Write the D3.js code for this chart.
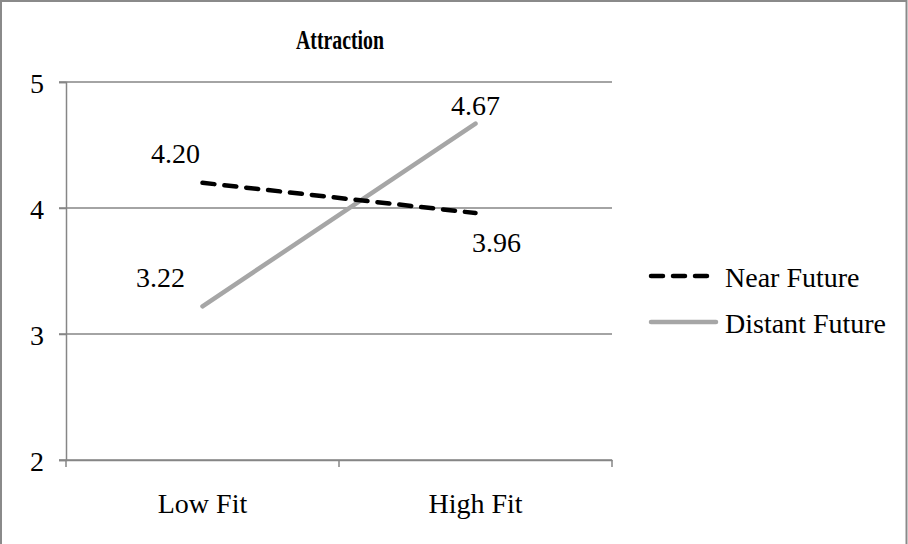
<!DOCTYPE html>
<html><head><meta charset="utf-8">
<script src="https://cdn.jsdelivr.net/npm/d3@7"></script>
<style>
body{margin:0;background:#fff;}
text{font-family:"Liberation Serif","Times New Roman",serif;fill:#000;}
</style></head>
<body><svg id="c" width="908" height="544"></svg>
<script>
const title = "Attraction";
const categories = ["Low Fit", "High Fit"];
const seriesNames = ["Near Future", "Distant Future"];
const nearFuture = [4.20, 3.96];
const distantFuture = [3.22, 4.67];
const yTicks = [2, 3, 4, 5];

const svg = d3.select("#c");
svg.append("rect").attr("x",1).attr("y",1).attr("width",905.5).attr("height",560)
  .attr("fill","#fff").attr("stroke","#8a8a8a").attr("stroke-width",2);

const L = 66, R = 612, T = 82, B = 460;
const x = d3.scaleBand().domain(categories).range([L, R]);
const y = d3.scaleLinear().domain([2, 5]).range([B, T]);
const grid = "#868686";

// gridlines
svg.append("g").selectAll("line").data(yTicks).join("line")
  .attr("x1", L-7).attr("x2", R).attr("y1", d=>y(d)).attr("y2", d=>y(d))
  .attr("stroke", grid).attr("stroke-width", 1.5);

// y axis
const yAxis = svg.append("g").attr("transform",`translate(${L},0)`)
  .call(d3.axisLeft(y).tickValues(yTicks).tickFormat(d3.format("d")).tickSize(7).tickPadding(15));
yAxis.select(".domain").attr("stroke", grid).attr("stroke-width",1.5);
yAxis.selectAll(".tick line").attr("stroke", grid).attr("stroke-width",1.5);
yAxis.selectAll(".tick text").attr("font-size",28).attr("font-family",'"Liberation Serif",serif').attr("dy","0.36em");

// x axis
const xAxis = svg.append("g").attr("transform",`translate(0,${B})`)
  .call(d3.axisBottom(x).tickSize(0).tickPadding(0));
xAxis.select(".domain").attr("stroke", grid).attr("stroke-width",1.5);
xAxis.selectAll(".tick text").attr("font-size",28).attr("font-family",'"Liberation Serif",serif').attr("dy",null).attr("y",53);
// tick marks at band boundaries
svg.append("g").selectAll("line").data([categories[0], categories[1], null]).join("line")
  .attr("x1", d=> d===null ? R : x(d)).attr("x2", d=> d===null ? R : x(d))
  .attr("y1", B).attr("y2", B+7).attr("stroke", grid).attr("stroke-width",1.5);

const cx = c => x(c) + x.bandwidth()/2;
const line = d3.line().x((d,i)=>cx(categories[i])).y(d=>y(d));

svg.append("path").datum(distantFuture).attr("d", line)
  .attr("fill","none").attr("stroke","#a6a6a6").attr("stroke-width",4.5).attr("stroke-linecap","round");
svg.append("path").datum(nearFuture).attr("d", line)
  .attr("fill","none").attr("stroke","#000").attr("stroke-width",4.5)
  .attr("stroke-linecap","round").attr("stroke-dasharray","12 10");

// data labels
const nearOff = [[-27,-20],[21,39]];
const distOff = [[-42,-19],[0,-9]];
const lbl = (vals, off) => svg.append("g").selectAll("text").data(vals).join("text")
  .attr("x",(d,i)=>cx(categories[i])+off[i][0]).attr("y",(d,i)=>y(d)+off[i][1])
  .attr("text-anchor","middle").attr("font-size",28).text(d=>d.toFixed(2));
lbl(nearFuture, nearOff);
lbl(distantFuture, distOff);

// title
svg.append("text").attr("x",(L+R)/2+1).attr("y",49).attr("text-anchor","middle")
  .attr("font-size",27).attr("font-weight","bold")
  .attr("textLength",88).attr("lengthAdjust","spacingAndGlyphs").text(title);

// legend
const lg = svg.append("g");
lg.append("line").attr("x1",651).attr("x2",708).attr("y1",276).attr("y2",276)
  .attr("stroke","#000").attr("stroke-width",4.5).attr("stroke-linecap","round").attr("stroke-dasharray","12 10");
lg.append("line").attr("x1",651).attr("x2",716).attr("y1",322).attr("y2",322)
  .attr("stroke","#a6a6a6").attr("stroke-width",4.5).attr("stroke-linecap","round");
lg.append("text").attr("x",725).attr("y",287).attr("font-size",28).text(seriesNames[0]);
lg.append("text").attr("x",725).attr("y",333).attr("font-size",28).text(seriesNames[1]);
</script></body></html>
